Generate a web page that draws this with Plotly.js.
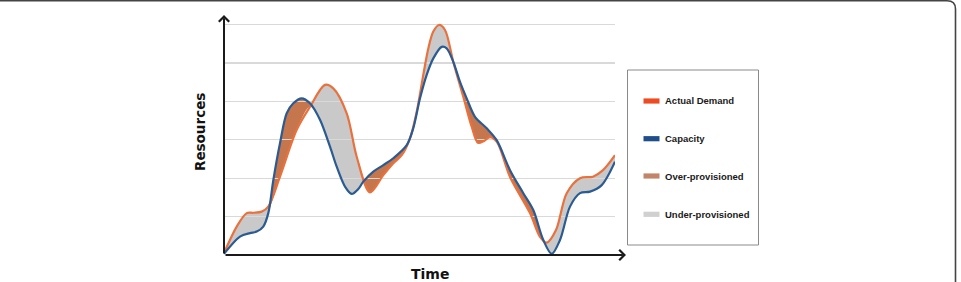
<!DOCTYPE html>
<html>
<head>
<meta charset="utf-8">
<script src="https://cdn.plot.ly/plotly-3.0.1.min.js"></script>
<style>html,body{margin:0;padding:0;background:#fff;}#chart{width:961px;height:282px;}</style>
</head>
<body>
<div id="chart"></div>
<script>
// ---- data (time in arbitrary units 0..100, resources in grid units) ----
var demandTime = [0, 3.25, 5.81, 7.49, 9.64, 11.33, 14.32, 18.59, 22.0, 25.83, 27.95, 31.38, 33.94, 37.34, 40.74, 43.3, 45.45, 47.57, 49.28, 50.97, 52.25, 53.53, 54.99, 56.52, 58.64, 61.2, 63.35, 64.96, 66.5, 68.03, 69.82, 73.15, 78.26, 80.82, 82.53, 84.91, 87.65, 91.05, 94.37, 96.93, 100];
var demandValues = [0.05, 0.74, 1.09, 1.10, 1.13, 1.26, 2.04, 3.26, 3.86, 4.43, 4.34, 3.69, 2.56, 1.63, 2.08, 2.39, 2.60, 3.04, 3.73, 4.69, 5.38, 5.82, 5.99, 5.86, 5.03, 4.12, 3.34, 2.92, 2.97, 3.07, 2.94, 2.03, 1.09, 0.47, 0.32, 0.65, 1.61, 2.00, 2.04, 2.21, 2.60];
var capacityTime = [0, 4.09, 6.65, 8.36, 10.05, 11.33, 12.61, 14.32, 16.04, 17.72, 19.87, 21.99, 24.55, 27.11, 28.82, 30.95, 32.66, 34.35, 35.63, 38.18, 40.74, 43.3, 46.73, 48.41, 50.13, 51.84, 53.53, 55.68, 56.96, 58.64, 60.36, 62.07, 64.19, 67.19, 69.74, 73.15, 76.55, 79.1, 81.66, 83.81, 85.93, 88.49, 91.05, 93.61, 96.6, 100];
var capacityValues = [0.03, 0.48, 0.57, 0.61, 0.74, 1.09, 1.95, 2.91, 3.69, 3.95, 4.08, 3.95, 3.52, 2.82, 2.30, 1.78, 1.59, 1.72, 1.91, 2.17, 2.34, 2.52, 2.86, 3.30, 4.08, 4.69, 5.12, 5.42, 5.38, 5.03, 4.51, 4.08, 3.60, 3.30, 2.99, 2.21, 1.61, 1.17, 0.39, 0.03, 0.39, 1.26, 1.61, 1.65, 1.82, 2.43];
var legendLabels = ["Actual Demand", "Capacity", "Over-provisioned", "Under-provisioned"];
var axisTitles = {x: "Time", y: "Resources"};

// ---- styles ----
var C_DEMAND = "#E9713D", C_CAP = "#2A5B93", C_OVER = "#C6764C", C_UNDER = "#C9C9C9";
var LEG_COLORS = ["#EE4B22", "#1F4E8A", "#C2856A", "#D0D0D0"];
var W = 961, H = 282, L = 224, R = 615, T = 15, B = 255;
var XR = [0, 100], YR = [0, 6.25];
function px(x) { return (x - L) / (R - L); }
function py(y) { return (B - y) / (B - T); }

// lower envelope of the two read series (points of whichever series is lower)
function lin(xs, ys, t) {
  for (var k = 0; k < xs.length - 1; k++) {
    if (t >= xs[k] && t <= xs[k + 1]) {
      var f = (t - xs[k]) / (xs[k + 1] - xs[k]);
      return ys[k] + f * (ys[k + 1] - ys[k]);
    }
  }
  return ys[ys.length - 1];
}
var env = [];
capacityTime.forEach(function (t, i) {
  if (capacityValues[i] <= lin(demandTime, demandValues, t)) env.push([t, capacityValues[i]]);
});
demandTime.forEach(function (t, i) {
  if (demandValues[i] < lin(capacityTime, capacityValues, t)) env.push([t, demandValues[i]]);
});
env.sort(function (a, b) { return a[0] - b[0]; });
var envX = [], envY = [];
env.forEach(function (p) {
  if (envX.length && Math.abs(envX[envX.length - 1] - p[0]) < 1e-9) {
    envY[envY.length - 1] = Math.min(envY[envY.length - 1], p[1]);
  } else { envX.push(p[0]); envY.push(p[1]); }
});

var sp = {shape: "spline", smoothing: 0.9};
var traces = [
  // fills on subplot xy (drawn below the gridlines of x2y2)
  {x: demandTime, y: demandValues, xaxis: "x", yaxis: "y", type: "scatter", mode: "lines",
   line: Object.assign({width: 0, color: C_UNDER}, sp), fill: "tozeroy", fillcolor: C_UNDER,
   name: legendLabels[3], showlegend: false, hoverinfo: "skip"},
  {x: capacityTime, y: capacityValues, xaxis: "x", yaxis: "y", type: "scatter", mode: "lines",
   line: Object.assign({width: 0, color: C_OVER}, sp), fill: "tozeroy", fillcolor: C_OVER,
   name: legendLabels[2], showlegend: false, hoverinfo: "skip"},
  {x: envX, y: envY, xaxis: "x", yaxis: "y", type: "scatter", mode: "lines",
   line: Object.assign({width: 0, color: "#ffffff"}, sp), fill: "tozeroy", fillcolor: "#ffffff",
   showlegend: false, hoverinfo: "skip"},
  // lines on subplot x2y2
  {x: demandTime, y: demandValues, xaxis: "x2", yaxis: "y2", type: "scatter", mode: "lines",
   line: Object.assign({width: 2.2, color: C_DEMAND}, sp), name: legendLabels[0], showlegend: false},
  {x: capacityTime, y: capacityValues, xaxis: "x2", yaxis: "y2", type: "scatter", mode: "lines",
   line: Object.assign({width: 2.2, color: C_CAP}, sp), name: legendLabels[1], showlegend: false}
];

var hiddenAxis = {range: XR, showgrid: false, zeroline: false, showticklabels: false, ticks: "", showline: false, fixedrange: true};
var layout = {
  width: W, height: H,
  margin: {l: L, r: W - R, t: T, b: H - B, pad: 0},
  paper_bgcolor: "#ffffff", plot_bgcolor: "rgba(0,0,0,0)",
  showlegend: false,
  xaxis: Object.assign({}, hiddenAxis, {domain: [0, 1], anchor: "y"}),
  yaxis: Object.assign({}, hiddenAxis, {range: YR, domain: [0, 1], anchor: "x"}),
  xaxis2: Object.assign({}, hiddenAxis, {domain: [0, 1], anchor: "y2"}),
  yaxis2: Object.assign({}, hiddenAxis, {range: YR, domain: [0, 1], anchor: "x2",
    showgrid: true, dtick: 1, tick0: 0, gridcolor: "#d9d9d9", gridwidth: 1.2}),
  shapes: [],
  annotations: []
};

// frame border of the figure panel
layout.shapes.push({type: "path", xref: "paper", yref: "paper",
  path: "M " + px(0) + "," + py(0.8) + " L " + px(947) + "," + py(0.8) +
        " Q " + px(955.5) + "," + py(0.8) + " " + px(955.5) + "," + py(9) +
        " L " + px(955.5) + "," + py(284),
  line: {color: "#444", width: 1.6}});

// legend box
layout.shapes.push({type: "rect", xref: "paper", yref: "paper",
  x0: px(627.5), x1: px(758.5), y0: py(245), y1: py(70),
  line: {color: "#8a8a8a", width: 1}, fillcolor: "#ffffff"});
var legY = [101, 138.7, 176, 214.3];
for (var i = 0; i < legendLabels.length; i++) {
  layout.shapes.push({type: "rect", xref: "paper", yref: "paper",
    x0: px(643.5), x1: px(659.5), y0: py(legY[i] + 2.6), y1: py(legY[i] - 2.6),
    line: {width: 0}, fillcolor: LEG_COLORS[i]});
  layout.annotations.push({xref: "paper", yref: "paper", x: px(663), y: py(legY[i]),
    xanchor: "left", yanchor: "middle", showarrow: false, text: legendLabels[i],
    font: {family: "Liberation Sans, Arial, sans-serif", size: 9.5, color: "#1a1a1a", weight: "bold"}});
}

// axes with arrowheads
layout.annotations.push({xref: "paper", yref: "paper", x: 0, y: py(15), ax: 0, ay: 240,
  axref: "pixel", ayref: "pixel", text: "", showarrow: true, arrowhead: 4, arrowsize: 1,
  arrowwidth: 2, arrowcolor: "#1a1a1a", standoff: 0, startstandoff: 0});
layout.annotations.push({xref: "paper", yref: "paper", x: px(626), y: 0, ax: -402, ay: 0,
  axref: "pixel", ayref: "pixel", text: "", showarrow: true, arrowhead: 4, arrowsize: 1,
  arrowwidth: 2, arrowcolor: "#1a1a1a", standoff: 0, startstandoff: 0});

// axis titles
layout.annotations.push({xref: "paper", yref: "paper", x: px(429.5), y: py(274), showarrow: false,
  xanchor: "center", yanchor: "middle", text: axisTitles.x,
  font: {family: "DejaVu Sans, Verdana, sans-serif", size: 14, color: "#111", weight: "bold"}});
layout.annotations.push({xref: "paper", yref: "paper", x: px(200), y: py(132), showarrow: false,
  xanchor: "center", yanchor: "middle", textangle: -90, text: axisTitles.y,
  font: {family: "DejaVu Sans, Verdana, sans-serif", size: 13.5, color: "#111", weight: "bold"}});

Plotly.newPlot("chart", traces, layout, {displayModeBar: false, staticPlot: true});
</script>
</body>
</html>
